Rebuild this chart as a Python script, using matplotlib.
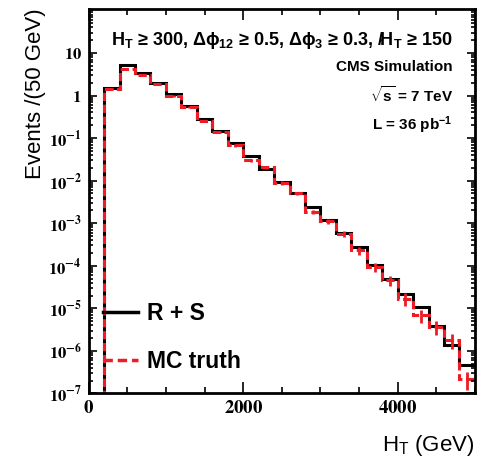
import numpy as np
import matplotlib
matplotlib.use("Agg")
from matplotlib import pyplot as plt
from matplotlib.lines import Line2D
import matplotlib.ticker as mticker

# bin edges in GeV (200 GeV wide bins)
ht_edges = [0, 200, 400, 600, 800, 1000, 1200, 1400, 1600, 1800, 2000, 2200, 2400,
            2600, 2800, 3000, 3200, 3400, 3600, 3800, 4000, 4200, 4400, 4600, 4800, 5000]

# rebalance + smear prediction
rs_events = [0, 1.53, 5.1, 3.44, 1.94, 1.07, 0.575, 0.284, 0.149, 0.077, 0.0384, 0.0193,
             0.0093, 0.0051, 0.0024, 0.00117, 6.0e-4, 2.8e-4, 1.05e-4, 4.8e-5, 2.15e-5,
             1.06e-5, 3.8e-6, 1.38e-6, 4.6e-7]

# MC truth
mc_events = [0, 1.42, 4.2, 3.0, 1.83, 0.97, 0.545, 0.25, 0.138, 0.068, 0.030, 0.021,
             0.0089, 0.0050, 0.00185, 0.00113, 5.7e-4, 2.3e-4, 9.5e-5, 4.6e-5, 1.7e-5,
             6.8e-6, 3.7e-6, 1.8e-6, 2.2e-7]
mc_relerr = [0, 0.04, 0.04, 0.04, 0.04, 0.05, 0.05, 0.06, 0.06, 0.07, 0.08, 0.08,
             0.1, 0.1, 0.12, 0.14, 0.18, 0.2, 0.25, 0.28, 0.32, 0.35, 0.35, 0.4, 0.45]

red = '#ee1c25'


def ytick_fmt(v, pos):
    if np.isclose(v, 10):
        return r'$\mathbf{10}$'
    if np.isclose(v, 1):
        return r'$\mathbf{1}$'
    return r'$\mathbf{10^{%d}}$' % int(round(np.log10(v)))


def main():
    plt.rcParams['font.family'] = ['Liberation Sans', 'DejaVu Sans']
    plt.rcParams['mathtext.fontset'] = 'stix'
    plt.rcParams['mathtext.rm'] = 'Liberation Sans'
    plt.rcParams['mathtext.bf'] = 'Liberation Sans:bold'
    plt.rcParams['mathtext.it'] = 'Liberation Sans:italic'
    plt.rcParams['mathtext.sf'] = 'Liberation Sans'

    edges = np.array(ht_edges)
    rs = np.array(rs_events)
    mc = np.array(mc_events)
    mc_err = mc * np.array(mc_relerr)
    centers = 0.5 * (edges[1:] + edges[:-1])

    fig = plt.figure(figsize=(4.81, 4.57), dpi=100)
    ax = fig.add_axes([0.1844, 0.139, 0.803, 0.842])

    ax.stairs(rs, edges, baseline=None, color='black', lw=2.2)
    ax.stairs(mc, edges, baseline=None, color=red, lw=2.2, ls=(0, (2.7, 1.2)))
    sel = mc > 0
    ax.errorbar(centers[sel], mc[sel], yerr=mc_err[sel], fmt='none',
                ecolor=red, elinewidth=2.0, capsize=0)

    ax.set_yscale('log')
    ax.set_xlim(0, 5000)
    ax.set_ylim(1e-7, 110)

    ax.xaxis.set_major_locator(mticker.MultipleLocator(2000))
    ax.xaxis.set_minor_locator(mticker.MultipleLocator(500))
    ax.yaxis.set_major_locator(mticker.FixedLocator([10.0 ** k for k in range(-7, 2)]))
    ax.yaxis.set_minor_locator(mticker.LogLocator(base=10, subs=np.arange(1, 10), numticks=30))
    ax.yaxis.set_major_formatter(mticker.FuncFormatter(ytick_fmt))
    ax.xaxis.set_major_formatter(mticker.FuncFormatter(lambda v, p: r'$\mathbf{%d}$' % v))
    ax.yaxis.set_minor_formatter(mticker.NullFormatter())

    ax.tick_params(which='both', direction='in', top=True, right=True, width=1.2)
    ax.tick_params(axis='x', which='major', length=8, labelsize=13.5, pad=5)
    ax.tick_params(axis='x', which='minor', length=4)
    ax.tick_params(axis='y', which='major', length=5.5, labelsize=12, pad=5)
    ax.tick_params(axis='y', which='minor', length=2.8)
    for s in ax.spines.values():
        s.set_linewidth(2)

    ax.set_ylabel('Events /(50 GeV)', fontsize=16, loc='top', labelpad=2)
    ax.set_xlabel(r'H$_\mathregular{T}$ (GeV)', fontsize=16, loc='right', labelpad=11,
                  math_fontfamily='custom')

    bold = dict(transform=ax.transAxes, fontweight='bold', math_fontfamily='custom')
    ax.text(0.943, 0.918,
            r'$\mathbf{H_T}$ ≥ 300, Δϕ$_\mathbf{12}$ ≥ 0.5, Δϕ$_\mathbf{3}$ ≥ 0.3, '
            r'$\mathbf{/\!H_T}$ ≥ 150',
            ha='right', va='center', fontsize=13, **bold)
    ax.text(0.943, 0.848, 'CMS Simulation', ha='right', va='center', fontsize=11, **bold)
    ax.text(0.943, 0.775, r'$\mathbf{\sqrt{s}}$ = 7 TeV', ha='right', va='center',
            fontsize=11, **bold)
    ax.text(0.943, 0.697, r'L = 36 pb$^\mathbf{-1}$', ha='right', va='center',
            fontsize=11, **bold)

    handles = [Line2D([], [], color='black', lw=2.5),
               Line2D([], [], color=red, lw=2.5, ls=(0, (2.7, 1.4)))]
    ax.legend(handles, ['R + S', 'MC truth'], loc='lower left',
              bbox_to_anchor=(0.037, 0.053), frameon=False, borderpad=0,
              borderaxespad=0, handlelength=1.52, handletextpad=0.4,
              labelspacing=1.08, prop=dict(size=16.5, weight='bold'))

    fig.savefig('out.png', dpi=100)


if __name__ == "__main__":
    main()
